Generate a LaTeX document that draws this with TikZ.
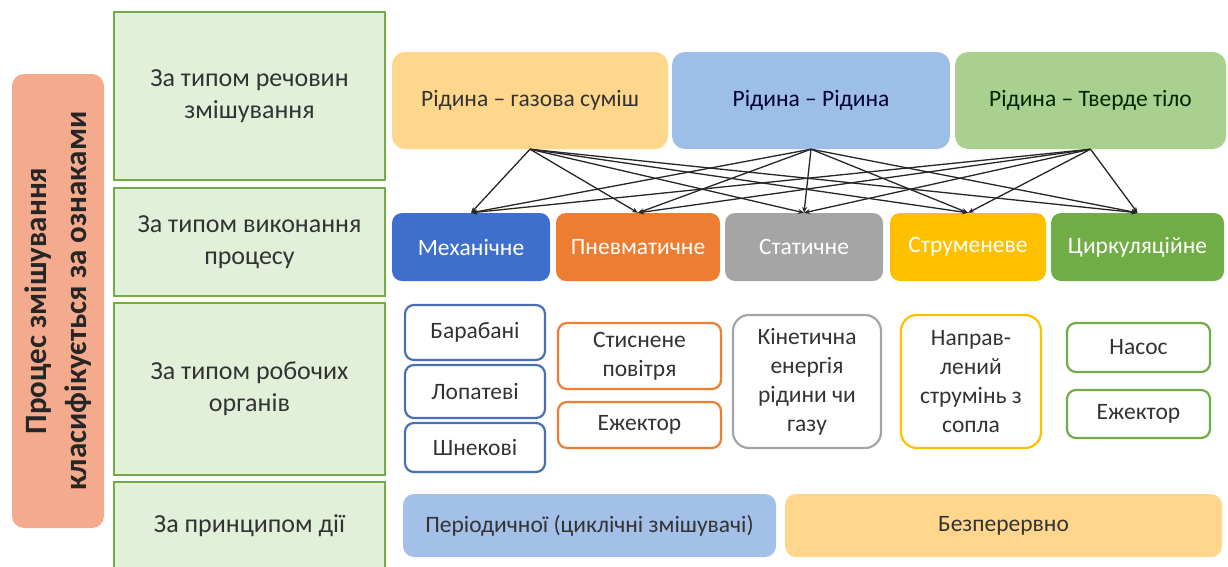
\documentclass[tikz,border=0pt]{standalone}
\usepackage{fontspec}
\setmainfont{Carlito}
\usetikzlibrary{arrows.meta}
\definecolor{catfill}{HTML}{E2F0D9}
\definecolor{catline}{HTML}{70AD47}
\definecolor{salmon}{HTML}{F4AA8C}
\definecolor{topY}{HTML}{FFD78C}
\definecolor{topB}{HTML}{9DBEE6}
\definecolor{topG}{HTML}{A9D08E}
\definecolor{pBlue}{HTML}{3F6FCC}
\definecolor{pOrange}{HTML}{ED7D31}
\definecolor{pGray}{HTML}{A5A5A5}
\definecolor{pGold}{HTML}{FFC000}
\definecolor{pGreen}{HTML}{70AD47}
\definecolor{oBlue}{HTML}{4A6FB5}
\definecolor{bBlue}{HTML}{A3C0E8}
\definecolor{bYellow}{HTML}{FFD68C}
\definecolor{txt}{HTML}{333333}
\tikzset{
  catbox/.style={draw=catline, line width=2.6pt, fill=catfill, align=center, text=txt, inner sep=0pt, font=\fontsize{26}{32}\selectfont},
  topbox/.style={rounded corners=13pt, align=center, inner sep=0pt, draw=none},
  procbox/.style={rounded corners=10pt, align=center, inner sep=0pt, text=white, draw=none},
  organbox/.style={rounded corners=9pt, align=center, inner sep=0pt, fill=white, line width=2.2pt, text=txt},
  botbox/.style={rounded corners=11pt, align=center, inner sep=0pt, draw=none, text=txt},
  arr/.style={-{Stealth[length=6pt,width=5pt]}, line width=1.3pt, draw=black!85}
}
\begin{document}
\begin{tikzpicture}[x=1pt,y=-1pt, font=\fontsize{23.5}{29}\selectfont]
\useasboundingbox (0,0) rectangle (1228,566);
\clip (0,0) rectangle (1228,566);
% left label
\node[fill=salmon, rounded corners=12pt, rotate=90, minimum width=454pt, minimum height=92pt, inner sep=0pt, align=center, text=black!85, font=\fontsize{31}{40}\selectfont\bfseries] (sal) at (58,301) {Процес змішування\\класифікується за ознаками};
% category column
\node[catbox, minimum width=271pt, minimum height=168pt] (c1) at (249.5,96) {За типом речовин\\змішування};
\node[catbox, minimum width=271pt, minimum height=108pt] (c2) at (249.5,242) {За типом виконання\\процесу};
\node[catbox, minimum width=271pt, minimum height=172pt] (c3) at (249.5,389) {За типом робочих\\органів};
\node[catbox, minimum width=271pt, minimum height=88pt] (c4) at (249.5,526) {За принципом дії};
% top row
\node[topbox, fill=topY, text=black!80, minimum width=276pt, minimum height=97pt] (t1) at (530,100.5) {Рідина – газова суміш};
\node[topbox, fill=topB, text=black!80!blue, minimum width=278pt, minimum height=97pt] (t2) at (811,100.5) {Рідина – Рідина};
\node[topbox, fill=topG, text=black!85!green, minimum width=271pt, minimum height=97pt] (t3) at (1090.5,100.5) {Рідина – Тверде тіло};
% process row
\node[procbox, fill=pBlue, minimum width=158pt, minimum height=68pt] (p1) at (471,247) {Механічне};
\node[procbox, fill=pOrange, minimum width=164pt, minimum height=68pt] (p2) at (638,247) {Пневматичне};
\node[procbox, fill=pGray, minimum width=158pt, minimum height=68pt] (p3) at (804,247) {Статичне};
\node[procbox, fill=pGold, minimum width=156pt, minimum height=68pt] (p4) at (968,247) {Струменеве};
\node[procbox, fill=pGreen, minimum width=173pt, minimum height=68pt] (p5) at (1137.5,247) {Циркуляційне};
% arrows
\foreach \s in {t1,t2,t3}{
  \foreach \d in {p1,p2,p3,p4,p5}{
    \draw[arr] (\s.south) -- (\d.north);
  }
}
% working organs
\node[organbox, draw=oBlue, minimum width=140pt, minimum height=55pt] (o1a) at (475,332.5) {Барабані};
\node[organbox, draw=oBlue, minimum width=140pt, minimum height=53pt] (o1b) at (475,391.5) {Лопатеві};
\node[organbox, draw=oBlue, minimum width=140pt, minimum height=49pt] (o1c) at (475,447.5) {Шнекові};
\node[organbox, draw=pOrange, minimum width=163pt, minimum height=66pt] (o2a) at (639.5,356) {Стиснене\\повітря};
\node[organbox, draw=pOrange, minimum width=163pt, minimum height=46pt] (o2b) at (639.5,425) {Ежектор};
\node[organbox, draw=pGray, rounded corners=16pt, minimum width=148pt, minimum height=133pt] (o3) at (807,381.5) {Кінетична\\енергія\\рідини чи\\газу};
\node[organbox, draw=pGold, rounded corners=16pt, minimum width=140pt, minimum height=133pt] (o4) at (971,381.5) {Направ-\\лений\\струмінь з\\сопла};
\node[organbox, draw=pGreen, minimum width=143pt, minimum height=49pt] (o5a) at (1138.5,347.5) {Насос};
\node[organbox, draw=pGreen, minimum width=143pt, minimum height=48pt] (o5b) at (1138.5,414) {Ежектор};
% bottom row
\node[botbox, fill=bBlue, minimum width=373pt, minimum height=63pt] (b1) at (589.5,525.5) {Періодичної (циклічні змішувачі)};
\node[botbox, fill=bYellow, minimum width=437pt, minimum height=63pt] (b2) at (1003.5,525.5) {Безперервно};
\end{tikzpicture}
\end{document}
